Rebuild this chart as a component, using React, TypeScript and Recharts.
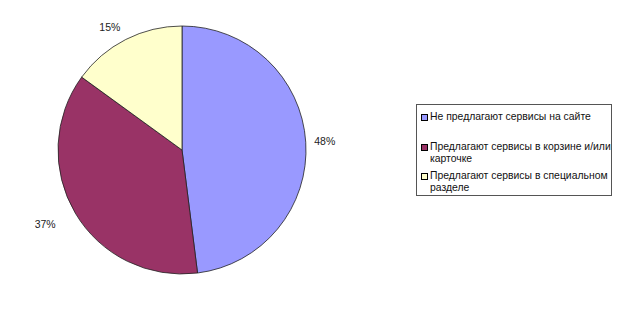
import { Cell, Legend, Pie, PieChart } from "recharts";

const categories = [
  "Не предлагают сервисы на сайте",
  "Предлагают сервисы в корзине и/или карточке",
  "Предлагают сервисы в специальном разделе",
];
const shares = [48, 37, 15];
const colors = ["#9999ff", "#993366", "#ffffcc"];

const data = categories.map((name, i) => ({ name, value: shares[i] }));

const RADIAN = Math.PI / 180;
const font = "'Liberation Sans', Arial, sans-serif";

function renderLabel(props: any) {
  const { cx, cy, midAngle, outerRadius, value } = props;
  const cos = Math.cos(-midAngle * RADIAN);
  const sin = Math.sin(-midAngle * RADIAN);
  const r = outerRadius + 8;
  // push labels on the left side a bit further out, like Excel does
  const x = cx + r * cos + 11 * cos + (cos < 0 ? 16 * cos : 0);
  const y = cy + r * sin + 6 * sin + (sin > 0 ? 8 * sin : 0);
  return (
    <text
      x={x}
      y={y}
      fill="#222"
      fontSize={10.5}
      fontFamily={font}
      textAnchor="middle"
      dominantBaseline="central"
    >
      {`${value}%`}
    </text>
  );
}

function LegendBox({ payload }: any) {
  return (
    <div
      style={{
        border: "1px solid #555",
        width: 196,
        height: 92,
        boxSizing: "border-box",
        padding: "6px 0 0 4px",
        fontFamily: font,
        fontSize: 10.4,
        lineHeight: "12px",
        color: "#111",
        background: "#fff",
        textAlign: "left",
      }}
    >
      {(payload || []).map((entry: any, i: number) => (
        <div
          key={entry.value}
          style={{
            display: "flex",
            alignItems: "flex-start",
            marginTop: i === 1 ? 18 : i === 2 ? 5 : 0,
          }}
        >
          <span
            style={{
              display: "inline-block",
              width: 5,
              height: 5,
              border: "1px solid #000",
              background: entry.color,
              marginTop: 3,
              marginRight: 2,
              flexShrink: 0,
            }}
          />
          <span style={{ width: 186, flexShrink: 0 }}>{entry.value}</span>
        </div>
      ))}
    </div>
  );
}

export default function App() {
  return (
    <div style={{ position: "absolute", left: 0, top: 0, background: "#fff" }}>
      <PieChart
        width={632}
        height={322}
        margin={{ top: 0, right: 0, bottom: 0, left: 0 }}
      >
        <Pie
          data={data}
          dataKey="value"
          nameKey="name"
          cx={182}
          cy={150}
          outerRadius={124}
          startAngle={90}
          endAngle={-270}
          stroke="#222"
          strokeWidth={0.8}
          label={renderLabel}
          labelLine={false}
          isAnimationActive={false}
        >
          {data.map((d, i) => (
            <Cell key={d.name} fill={colors[i]} />
          ))}
        </Pie>
        <Legend
          content={<LegendBox />}
          layout="vertical"
          wrapperStyle={{ position: "absolute", left: 416, top: 104, width: 196 }}
        />
      </PieChart>
    </div>
  );
}
